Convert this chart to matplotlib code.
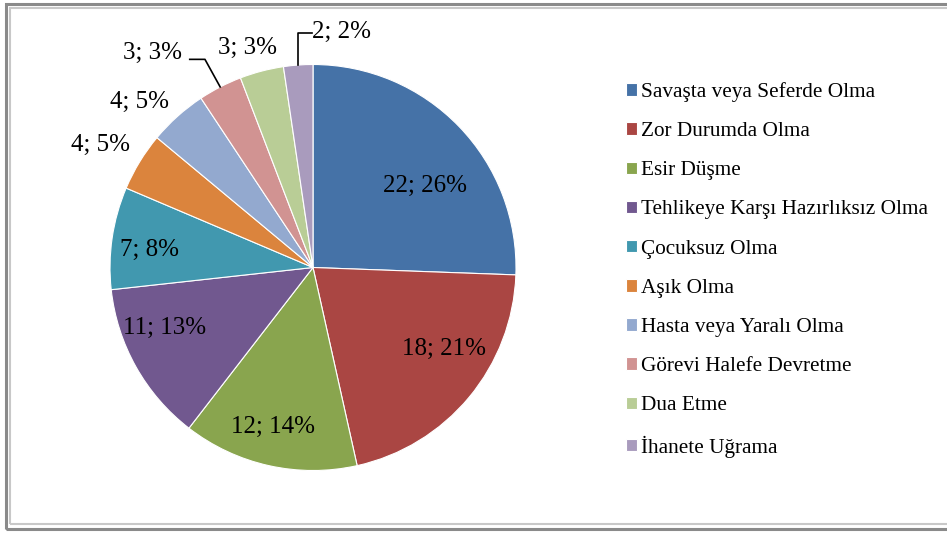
import numpy as np
import matplotlib
matplotlib.use('Agg')
import matplotlib.pyplot as plt
from matplotlib.patches import Rectangle

plt.rcParams['font.family'] = ['Liberation Serif', 'DejaVu Serif']

# --- data ---
categories = ['Savaşta veya Seferde Olma', 'Zor Durumda Olma', 'Esir Düşme',
              'Tehlikeye Karşı Hazırlıksız Olma', 'Çocuksuz Olma', 'Aşık Olma',
              'Hasta veya Yaralı Olma', 'Görevi Halefe Devretme', 'Dua Etme',
              'İhanete Uğrama']
counts = [22, 18, 12, 11, 7, 4, 4, 3, 3, 2]
percents = [26, 21, 14, 13, 8, 5, 5, 3, 3, 2]

colors = ['#4572A7', '#AA4643', '#89A54E', '#71588F', '#4198AF',
          '#DB843D', '#93A9CF', '#D19392', '#B9CD96', '#A99BBD']

# label placement (radius factor, angle nudge in degrees)
lab_r = [0.68, 0.76, 0.81, 0.79, 0.81, 1.21, 1.18, 1.32, 1.13, 1.17]
lab_dang = [-8, 8, -1.5, -7, 2.4, 1.5, 4.5, 9.6, 2, -11]

W, H = 947, 534
CX, CY, R = 313, 266.5, 203  # pie centre (px from left / bottom) and radius

fig = plt.figure(figsize=(W / 100, H / 100), dpi=100)
ax = fig.add_axes([0, 0, 1, 1])
ax.axis('off')

wedges, _ = ax.pie(counts, colors=colors, startangle=90, counterclock=False,
                   radius=1.0, wedgeprops=dict(edgecolor='white', linewidth=0.8))
ax.set_aspect('auto')
ax.set_xlim(-CX / R, (W - CX) / R)
ax.set_ylim(-CY / R, (H - CY) / R)

for i, w in enumerate(wedges):
    mid = (w.theta1 + w.theta2) / 2
    a = np.deg2rad(mid + lab_dang[i])
    x, y = lab_r[i] * np.cos(a), lab_r[i] * np.sin(a)
    ax.text(x, y, f'{counts[i]}; {percents[i]}%', ha='center', va='center',
            fontsize=18, color='black')

# leader lines for two small slices
for i, elbow, end in [(7, (-0.075, 0.136), -0.075), (9, (0.0, 0.156), 0.069)]:
    mid = np.deg2rad((wedges[i].theta1 + wedges[i].theta2) / 2)
    ex, ey = np.cos(mid), np.sin(mid)
    bx, by = ex + elbow[0], ey + elbow[1]
    ax.plot([ex, bx, bx + end], [ey, by, by], color='black', lw=1.2)

leg = ax.legend(wedges, categories, loc='upper left',
                bbox_to_anchor=(626 / W, 1 - 82 / H), frameon=False,
                fontsize=15.3, handlelength=0.52, handleheight=0.52,
                handletextpad=0.2, labelspacing=0.95, borderaxespad=0,
                borderpad=0)

# chart frame
fig.patches.append(Rectangle((6 / W, 5 / H), 1.2, (H - 9) / H, transform=fig.transFigure,
                             fill=False, edgecolor='#8a8a8a', lw=2.2))
fig.patches.append(Rectangle((10 / W, 10 / H), 1.2, (H - 18) / H, transform=fig.transFigure,
                             fill=False, edgecolor='#c8c8c8', lw=1.5))

fig.savefig('out.png', dpi=100)
